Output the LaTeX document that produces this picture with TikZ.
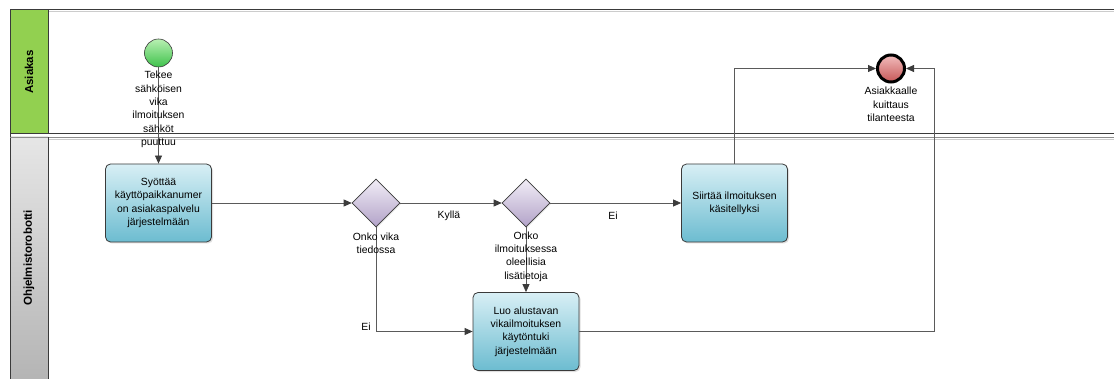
\documentclass[tikz,border=0pt]{standalone}
\usepackage{fontspec}
\setmainfont{Liberation Sans}
\usetikzlibrary{arrows.meta,shapes.geometric,shadows}

\definecolor{lanegreen}{HTML}{92D050}
\definecolor{lanegrayA}{HTML}{E6E6E6}
\definecolor{lanegrayB}{HTML}{B4B4B4}
\definecolor{taskTop}{HTML}{D8EFF5}
\definecolor{taskBot}{HTML}{6CBCD0}
\definecolor{gwTop}{HTML}{F1EDF6}
\definecolor{gwBot}{HTML}{B2A2C8}
\definecolor{startTop}{HTML}{B8F0B2}
\definecolor{startBot}{HTML}{3FC24C}
\definecolor{endTop}{HTML}{F2BDBD}
\definecolor{endBot}{HTML}{C65757}
\definecolor{edge}{HTML}{5A5A5A}
\definecolor{tip}{HTML}{3C3C3C}
\definecolor{border}{HTML}{3A3A3A}

\tikzset{
  txt/.style={font=\fontsize{10.4}{13.3}\selectfont, align=center, inner sep=0pt, text=black},
  task/.style={txt, draw=border, line width=0.8pt, rounded corners=5pt,
    top color=taskTop, bottom color=taskBot, minimum width=106pt, minimum height=78pt,
    drop shadow={opacity=0.25, shadow xshift=1.5pt, shadow yshift=-1.5pt}},
  gateway/.style={diamond, draw=border, line width=0.6pt, aspect=1,
    minimum width=48pt, minimum height=48pt, inner sep=0pt,
    top color=gwTop, bottom color=gwBot,
    drop shadow={opacity=0.2, shadow xshift=1pt, shadow yshift=-1pt}},
  startev/.style={circle, draw=border, line width=0.6pt, minimum size=28pt, inner sep=0pt,
    top color=startTop, bottom color=startBot},
  endev/.style={circle, draw=black, line width=3pt, minimum size=27pt, inner sep=0pt,
    top color=endTop, bottom color=endBot},
  flow/.style={draw=edge, line width=0.8pt, -{Triangle[length=8pt,width=7pt,color=tip]}},
  lanelabel/.style={font=\bfseries\fontsize{11.5}{13}\selectfont, rotate=90, inner sep=0pt},
  lbl/.style={txt}
}

\begin{document}
\begin{tikzpicture}[x=1pt,y=-1pt]
  \useasboundingbox (0,0) rectangle (1114,379);
  \fill[white] (0,0) rectangle (1114,379);

  % lane headers
  \fill[lanegreen] (10,9.5) rectangle (48,133);
  \shade[top color=lanegrayA, bottom color=lanegrayB] (10,137) rectangle (48,381);
  % lane borders
  \draw[border, line width=0.9pt] (10,381) -- (10,9.5) -- (1114,9.5);
  \draw[black!20, line width=0.8pt] (48,11.5) -- (1114,11.5);
  \draw[border, line width=0.9pt] (10,133) -- (1114,133);
  \draw[black!45, line width=0.8pt] (10,137) -- (1114,137);
  \draw[black!20, line width=0.8pt] (48,139) -- (1114,139);
  \draw[border, line width=0.8pt] (48,9.5) -- (48,133);
  \draw[border, line width=0.8pt] (48,137) -- (48,381);
  \node[lanelabel] (laneA) at (29,72) {Asiakas};
  \node[lanelabel] (laneB) at (29,258) {Ohjelmistorobotti};

  % events, tasks, gateways
  \node[startev] (start) at (158.5,53) {};
  \node[task] (t1) at (158.5,203) {Syöttää\\käyttöpaikkanumer\\on asiakaspalvelu\\järjestelmään};
  \node[gateway] (g1) at (376,203) {};
  \node[gateway] (g2) at (526,203) {};
  \node[task] (t2) at (526,331.5) {Luo alustavan\\vikailmoituksen\\käytöntuki\\järjestelmään};
  \node[task] (t3) at (734.5,203) {Siirtää ilmoituksen\\käsitellyksi};
  \node[endev] (end) at (891,68.5) {};

  % sequence flows
  \draw[flow] (start) -- (t1);
  \draw[flow] (t1.east) -- (g1.west);
  \draw[flow] (g1.east) -- node[lbl, pos=0.48, yshift=-13pt] (kylla) {Kyllä} (g2.west);
  \draw[flow] (g2.east) -- node[lbl, pos=0.48, yshift=-13pt] (ei1) {Ei} (t3.west);
  \draw[flow] (g1.south) |- (t2.west);
  \draw[flow] (g2.south) -- (t2.north);
  \draw[flow] (t3.north) |- (end.west);
  \coordinate (back) at (934,331.5);
  \draw[flow] (t2.east) -- (back) |- (end.east);

  % labels
  \node[lbl] (startlbl) at (158.5,109.5) {Tekee\\sähköisen\\vika\\ilmoituksen\\sähköt\\puuttuu};
  \node[lbl] (g1lbl) at (376,243) {Onko vika\\tiedossa};
  \node[lbl] (g2lbl) at (526,256.5) {Onko\\ilmoituksessa\\oleellisia\\lisätietoja};
  \node[lbl] (endlbl) at (891,104.5) {Asiakkaalle\\kuittaus\\tilanteesta};
  \node[lbl] (ei2) at (366,327) {Ei};
\end{tikzpicture}
\end{document}
